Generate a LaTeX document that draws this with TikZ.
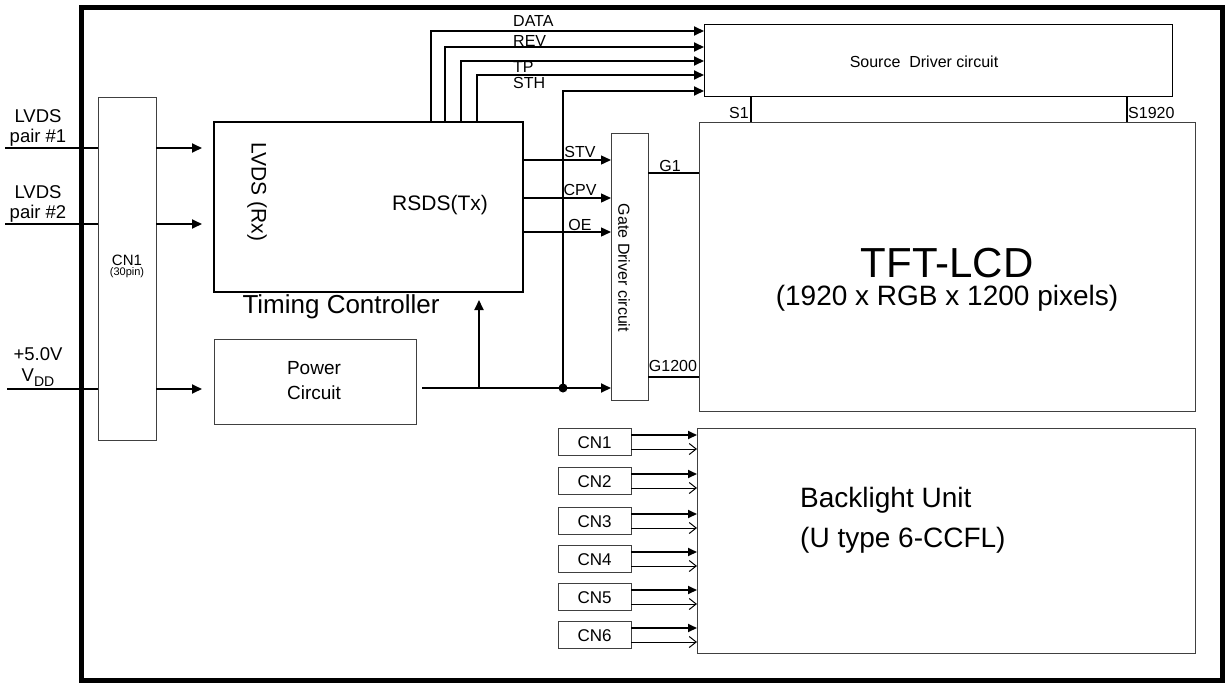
\documentclass[tikz,border=0pt]{standalone}
\usepackage{fontspec}
\setmainfont{Liberation Sans}
\usetikzlibrary{arrows.meta}
\newcommand{\fsz}[1]{\fontsize{#1}{#1}\selectfont}
\begin{document}
\begin{tikzpicture}[x=1pt,y=-1pt,
  box/.style={draw=black!75, line width=1pt, inner sep=0pt, outer sep=0pt, anchor=north west},
  wire/.style={draw=black, line width=1.8pt},
  arr/.style={wire, -{Triangle[length=10pt,width=9pt]}},
  arrthin/.style={draw=black, line width=1pt, -{Straight Barb[length=7pt,width=11pt]}},
  lbl/.style={inner sep=0pt, font=\fsz{16}},
]
\useasboundingbox (0,0) rectangle (1229,683);
% outer frame
\draw[line width=5pt] (81.5,7) rectangle (1222,680);

% boxes
\node[box, minimum width=58pt, minimum height=343pt] (cn1) at (98,97) {};
\node[box, draw=black, line width=1.6pt, minimum width=309pt, minimum height=170pt] (tc) at (214,122) {};
\node[box, minimum width=202pt, minimum height=85pt] (pwr) at (214,339) {};
\node[box, draw=black, minimum width=468pt, minimum height=72pt] (src) at (704,24) {};
\node[box, minimum width=37pt, minimum height=267pt] (gate) at (611,133) {};
\node[box, minimum width=496pt, minimum height=289pt] (tft) at (699,122) {};
\node[box, minimum width=498pt, minimum height=225pt] (bl) at (697,428) {};

% texts
\node[inner sep=0pt, align=center, font=\fsz{18.5}] (t1) at (38,128) {LVDS\\[1pt]pair \#1};
\node[inner sep=0pt, align=center, font=\fsz{18.5}] (t2) at (38,204) {LVDS\\[1pt]pair \#2};
\node[inner sep=0pt, align=center, font=\fsz{18.5}] (t3) at (38,367) {+5.0V\\[2pt]V\raisebox{-0.28em}{\fsz{14}DD}};
\node[inner sep=0pt, font=\fsz{15}] (tcn) at (127,260) {CN1};
\node[inner sep=0pt, font=\fsz{11}] (tpin) at (127,273) {(30pin)};
\node[inner sep=0pt, font=\fsz{21}, rotate=-90] (trx) at (257,192) {LVDS (Rx)};
\node[inner sep=0pt, font=\fsz{21}] (ttx) at (440,205) {RSDS(Tx)};
\node[inner sep=0pt, font=\fsz{26}] (ttc) at (341,307) {Timing Controller};
\node[inner sep=0pt, align=center, font=\fsz{19}] (tpw) at (314,381) {Power\\[6pt]Circuit};
\node[inner sep=0pt, font=\fsz{16}] (tsrc) at (924,62) {Source\ \ Driver circuit};
\node[inner sep=0pt, font=\fsz{16}, rotate=-90] (tgate) at (624,268) {Gate Driver circuit};
\node[inner sep=0pt, font=\fsz{42}] (ttft) at (947,263) {TFT-LCD};
\node[inner sep=0pt, font=\fsz{28}] (tpix) at (947,298) {(1920 x RGB x 1200 pixels)};
\node[inner sep=0pt, anchor=west, font=\fsz{28}] (tbl1) at (800,500) {Backlight Unit};
\node[inner sep=0pt, anchor=west, font=\fsz{28}] (tbl2) at (800,540) {(U type 6-CCFL)};

% input wires
\coordinate (in1) at (5,148);
\coordinate (in2) at (5,224);
\coordinate (in3) at (7,389);
\foreach \c/\t in {in1/tc, in2/tc, in3/pwr}{
  \draw[wire, line width=1.2pt] (\c) -- (\c -| cn1.west);
  \draw[arr, shorten >=12pt] (\c -| cn1.east) -- (\c -| \t.west);
}

% data lines to source driver
\coordinate (d1) at (431,31);
\coordinate (d2) at (445,47);
\coordinate (d3) at (461,61);
\coordinate (d4) at (477,75);
\foreach \c in {d1,d2,d3,d4}{
  \draw[arr] (\c |- tc.north) |- (\c -| src.west);
}
\node[lbl, anchor=west] (ldata) at (513,21) {DATA};
\node[lbl, anchor=west] (lrev) at (513,41) {REV};
\node[lbl, anchor=west] (ltp) at (513,67) {TP};
\node[lbl, anchor=west] (lsth) at (513,83) {STH};

% power line
\coordinate (pw) at (422,388);
\coordinate (br) at (479,388);
\coordinate (dot) at (563,388);
\coordinate (d5) at (563,91);
\draw[arr, shorten <=6pt] (pw -| pwr.east) -- (pw -| gate.west);
\draw[arr, shorten >=8pt] (br) -- (br |- tc.south);
\draw[arr] (dot) |- (d5 -| src.west);
\fill (dot) circle (4.5pt);

% gate control lines
\coordinate (ystv) at (580,160);
\coordinate (ycpv) at (580,198);
\coordinate (yoe) at (580,232);
\foreach \c in {ystv,ycpv,yoe}{
  \draw[arr, line width=1.4pt] (\c -| tc.east) -- (\c -| gate.west);
}
\node[lbl] (lstv) at (580,152) {STV};
\node[lbl] (lcpv) at (580,190) {CPV};
\node[lbl] (loe) at (580,225) {OE};

% gate outputs
\coordinate (g1) at (670,173);
\coordinate (g2) at (670,377);
\draw[line width=1.4pt] (g1 -| gate.east) -- (g1 -| tft.west);
\draw[line width=1.4pt] (g2 -| gate.east) -- (g2 -| tft.west);
\node[lbl] (lg1) at (670,166) {G1};
\node[lbl] (lg2) at (673,366) {G1200};

% source outputs
\coordinate (s1) at (751,110);
\coordinate (s2) at (1127,110);
\draw[line width=1.6pt] (s1 |- src.south) -- (s1 |- tft.north);
\draw[line width=1.6pt] (s2 |- src.south) -- (s2 |- tft.north);
\node[lbl, anchor=east] (ls1) at (749,113) {S1};
\node[lbl, anchor=west] (ls2) at (1128,113) {S1920};

% backlight connectors
\foreach \i/\y in {1/428,2/467,3/507,4/545,5/583,6/621}{
  \node[box, minimum width=73pt, minimum height=27pt] (b\i) at (558,\y) {};
  \node[inner sep=0pt, font=\fsz{17}] (bt\i) at ([yshift=-1pt]b\i.center) {CN\i};
  \path ([yshift=-7pt]b\i.north east) coordinate (pa\i);
  \path ([yshift=-21pt]b\i.north east) coordinate (pb\i);
  \draw[arr, -{Triangle[length=9pt,width=8pt]}] (pa\i) -- (pa\i -| bl.west);
  \draw[arrthin] (pb\i) -- (pb\i -| bl.west);
}
\end{tikzpicture}
\end{document}
